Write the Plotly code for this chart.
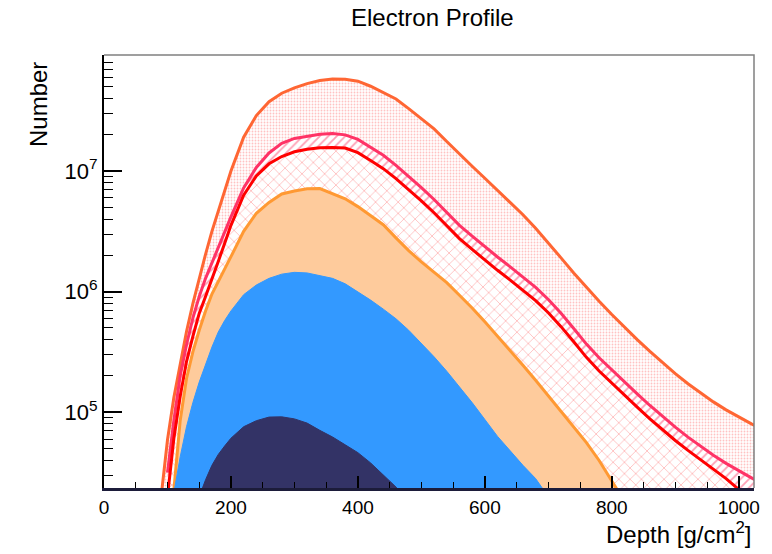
import plotly.graph_objects as go

# Depth grid [g/cm^2]
depth = [90, 100, 110, 120, 130, 140, 150, 160, 170, 180, 190, 200,
         220, 240, 260, 280, 300, 320, 340, 360, 380, 400, 420, 440, 460, 480,
         500, 520, 540, 560, 580, 600, 620, 640, 660, 680, 700, 720, 740, 760,
         780, 800, 820, 840, 860, 880, 900, 920, 940, 960, 980, 1000, 1020, 1040]

# log10(Number) (None = nothing drawn there)
outer_log10 = [4.30, 4.77, 5.12, 5.41, 5.67, 5.90, 6.11, 6.31, 6.50, 6.67, 6.84, 7.00,
               7.28, 7.46, 7.575, 7.645, 7.69, 7.725, 7.75, 7.763, 7.76, 7.745, 7.703, 7.65, 7.597, 7.517,
               7.433, 7.35, 7.245, 7.14, 7.04, 6.94, 6.84, 6.74, 6.638, 6.525, 6.405, 6.28, 6.155, 6.034,
               5.92, 5.81, 5.704, 5.602, 5.504, 5.41, 5.32, 5.236, 5.158, 5.086, 5.02, 4.96, 4.904, 4.85]

pink_log10 = [None, 4.50, 4.93, 5.30, 5.56, 5.78, 5.96, 6.11, 6.24, 6.37, 6.50, 6.62,
              6.86, 7.03, 7.15, 7.23, 7.27, 7.29, 7.305, 7.312, 7.30, 7.262, 7.197, 7.13, 7.047, 6.956,
              6.862, 6.764, 6.657, 6.55, 6.46, 6.372, 6.287, 6.205, 6.12, 6.035, 5.935, 5.82, 5.695, 5.565,
              5.452, 5.35, 5.25, 5.152, 5.056, 4.964, 4.876, 4.794, 4.716, 4.643, 4.576, 4.514, 4.456, 4.40]

red_log10 = [None, 4.30, 4.78, 5.13, 5.42, 5.63, 5.82, 5.96, 6.10, 6.25, 6.40, 6.55,
             6.80, 6.96, 7.06, 7.12, 7.16, 7.18, 7.193, 7.196, 7.19, 7.152, 7.087, 7.02, 6.937, 6.846,
             6.752, 6.654, 6.547, 6.44, 6.35, 6.262, 6.177, 6.095, 6.01, 5.925, 5.825, 5.71, 5.585, 5.455,
             5.342, 5.24, 5.14, 5.042, 4.946, 4.854, 4.766, 4.684, 4.606, 4.53, 4.45, 4.36, 4.28, 4.22]

lightorange_log10 = [None, None, 4.35, 4.93, 5.28, 5.50, 5.68, 5.84, 5.98, 6.08, 6.18, 6.29,
                     6.50, 6.65, 6.74, 6.81, 6.835, 6.853, 6.855, 6.81, 6.77, 6.705, 6.63, 6.555, 6.446, 6.34,
                     6.247, 6.16, 6.075, 5.97, 5.865, 5.75, 5.632, 5.512, 5.39, 5.265, 5.138, 5.01, 4.88, 4.748,
                     4.60, 4.43, 4.26, None, None, None, None, None, None, None, None, None, None, None]

blue_log10 = [None, None, 4.33, 4.63, 4.88, 5.08, 5.25, 5.40, 5.54, 5.665, 5.76, 5.84,
              5.975, 6.055, 6.11, 6.145, 6.16, 6.155, 6.135, 6.11, 6.065, 6.00, 5.93, 5.855, 5.775, 5.68,
              5.57, 5.46, 5.34, 5.21, 5.08, 4.94, 4.80, 4.68, 4.56, 4.45, 4.30, None, None, None,
              None, None, None, None, None, None, None, None, None, None, None, None, None, None]

navy_log10 = [None, None, None, None, None, None, 4.30, 4.44, 4.56, 4.65, 4.72, 4.785,
              4.88, 4.93, 4.96, 4.962, 4.945, 4.91, 4.85, 4.795, 4.73, 4.665, 4.58, 4.48, 4.38, 4.25,
              None, None, None, None, None, None, None, None, None, None, None, None, None, None,
              None, None, None, None, None, None, None, None, None, None, None, None, None, None]

x_ticks = [0, 200, 400, 600, 800, 1000]
y_ticks = [1e5, 1e6, 1e7]
y_ticktext = ["10<sup>5</sup>", "10<sup>6</sup>", "10<sup>7</sup>"]

series = [
    (outer_log10, "#ff6633", dict(shape=".", fgcolor="#ffc2c2", bgcolor="white", size=3, solidity=0.3)),
    (pink_log10, "#ff3366", dict(shape="/", fgcolor="#ff9fb5", bgcolor="white", size=6, solidity=0.3)),
    (red_log10, "#ff0000", dict(shape="x", fgcolor="#ffa3a3", bgcolor="white", size=8, solidity=0.15)),
    (lightorange_log10, "#ff9933", None),
    (blue_log10, "#3399ff", None),
    (navy_log10, "#333366", None),
]
solid_fill = {"#ff9933": "#fecb9c", "#3399ff": "#3399ff", "#333366": "#333366"}

fig = go.Figure()
for vals, color, pattern in series:
    xs = [d for d, v in zip(depth, vals) if v is not None]
    ys = [10 ** v for v in vals if v is not None]
    kw = dict(x=xs, y=ys, mode="lines", fill="tozeroy",
              line=dict(color=color, width=3, shape="linear"),
              hoverinfo="skip")
    if pattern is not None:
        kw["fillpattern"] = dict(fillmode="replace", **pattern)
        kw["fillcolor"] = "white"
    else:
        kw["fillcolor"] = solid_fill[color]
    if color in ("#3399ff", "#333366"):
        kw["line"]["width"] = 1
    fig.add_trace(go.Scatter(**kw))

minor_y = [k * 10 ** d for d in range(4, 8) for k in range(2, 10)
           if 10 ** 4.372 < k * 10 ** d < 10 ** 7.962]

fig.update_layout(
    width=772, height=554,
    margin=dict(l=104, r=14, t=55, b=66),
    plot_bgcolor="white", paper_bgcolor="white",
    showlegend=False,
    font=dict(family="Liberation Sans, Arial, sans-serif", color="black"),
    title=dict(text="Electron Profile", x=0.56, xanchor="center", y=1 - 18 / 554,
               yanchor="middle", font=dict(size=24)),
    xaxis=dict(range=[0, 1024], tickmode="array", tickvals=x_ticks,
               ticks="inside", ticklen=12, tickwidth=1.5, tickcolor="black",
               minor=dict(dtick=50, ticks="inside", ticklen=6, tickwidth=1.2, tickcolor="black"),
               showline=True, linecolor="#1c1c3a", linewidth=3,
               showgrid=False, zeroline=False, tickfont=dict(size=19)),
    yaxis=dict(type="log", range=[4.372, 7.962], tickmode="array",
               tickvals=y_ticks, ticktext=y_ticktext,
               ticks="inside", ticklen=18, tickwidth=1.5, tickcolor="black",
               minor=dict(tickmode="array", tickvals=minor_y, ticks="inside",
                          ticklen=9, tickwidth=1.2, tickcolor="black"),
               showline=True, linecolor="black", linewidth=2,
               showgrid=False, zeroline=False, tickfont=dict(size=22)),
    shapes=[dict(type="path", xref="paper", yref="paper",
                 path="M 0,1 L 1,1 L 1,0", line=dict(color="#808080", width=1.5),
                 layer="above")],
    annotations=[
        dict(text="Number", xref="paper", yref="paper", x=-0.101, y=0.988,
             xanchor="center", yanchor="top", textangle=-90, showarrow=False,
             font=dict(size=24)),
        dict(text="Depth [g/cm<sup>2</sup>]", xref="paper", yref="paper",
             x=0.998, y=-0.104, xanchor="right", yanchor="middle",
             showarrow=False, font=dict(size=24)),
    ],
)

fig.write_html("out.html", config={"displayModeBar": False},
               post_script="document.body.style.margin='0';")
